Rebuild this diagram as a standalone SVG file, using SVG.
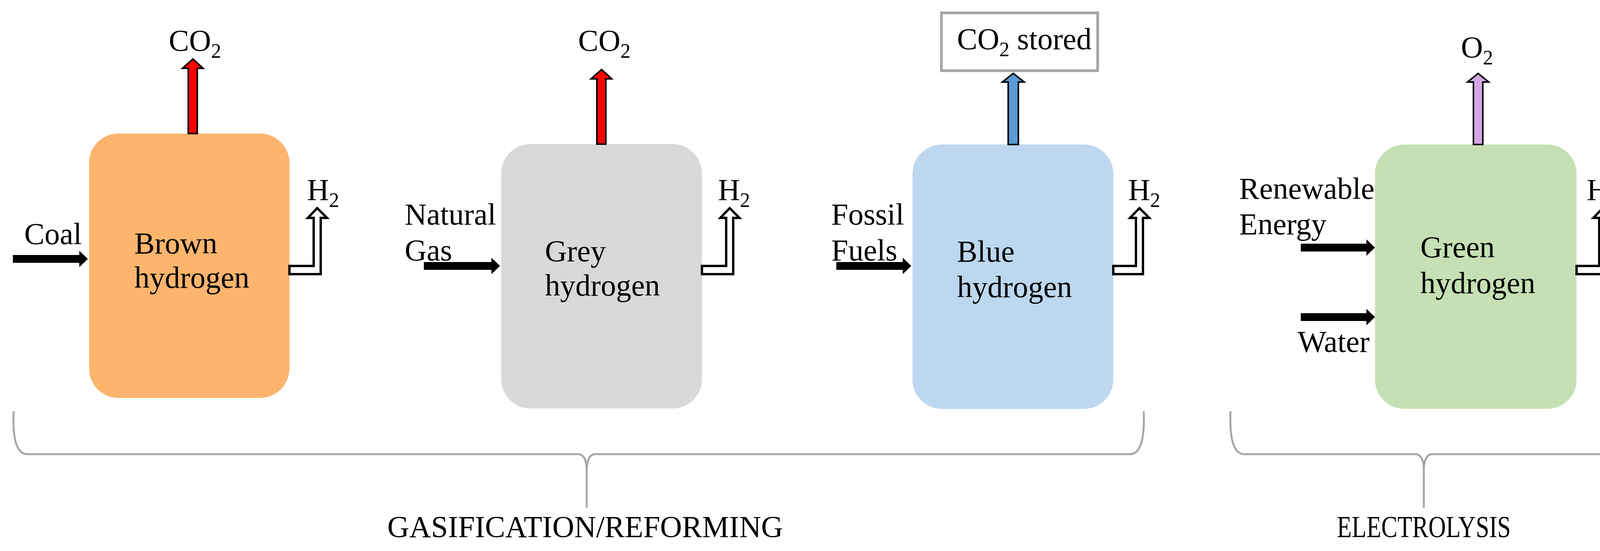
<svg xmlns="http://www.w3.org/2000/svg" width="4182" height="1411" viewBox="0 0 4182 1411">
<style>
text{font-family:"Liberation Serif","Times New Roman",serif;font-size:78px;fill:#000}
.sub{font-size:52px}
.in{fill:#000}
.h2{fill:#fff;stroke:#000;stroke-width:6}
.up{stroke:#000;stroke-width:4}
.brace{fill:none;stroke:#a6a6a6;stroke-width:5}
</style>
<rect width="4182" height="1411" fill="#fff"/>
<g id="brown">
<rect x="228" y="342" width="513" height="677" rx="75" fill="#fdb56e"/>
<text x="344" y="649">Brown</text><text x="344" y="737">hydrogen</text>
</g>
<g id="grey">
<rect x="1283" y="369" width="514" height="677" rx="75" fill="#d9d9d9"/>
<text x="1395" y="669">Grey</text><text x="1395" y="757">hydrogen</text>
</g>
<g id="blue">
<rect x="2336" y="370" width="514" height="677" rx="75" fill="#bdd7ee"/>
<text x="2450" y="670">Blue</text><text x="2450" y="761">hydrogen</text>
</g>
<g id="green">
<rect x="3520" y="370" width="516" height="677" rx="75" fill="#c5e0b4"/>
<text x="3636" y="659">Green</text><text x="3636" y="751">hydrogen</text>
</g>
<g id="co2stored">
<rect x="2410" y="33" width="400" height="148" fill="#fff" stroke="#a6a6a6" stroke-width="7"/>
<text x="2450" y="126">CO<tspan class="sub" dy="18">2</tspan><tspan dy="-18"> stored</tspan></text>
</g>
<g id="labels">
<text x="432" y="130">CO<tspan class="sub" dy="18">2</tspan></text>
<text x="1480" y="130">CO<tspan class="sub" dy="18">2</tspan></text>
<text x="3740" y="147">O<tspan class="sub" dy="18">2</tspan></text>
<text x="786" y="512">H<tspan class="sub" dy="18">2</tspan></text>
<text x="1838" y="512">H<tspan class="sub" dy="18">2</tspan></text>
<text x="2888" y="512">H<tspan class="sub" dy="18">2</tspan></text>
<text x="4062" y="512">H<tspan class="sub" dy="18">2</tspan></text>
<text x="62" y="625">Coal</text>
<text x="1036" y="575">Natural</text><text x="1036" y="667">Gas</text>
<text x="2128" y="575">Fossil</text><text x="2128" y="667">Fuels</text>
<text x="3172" y="509">Renewable</text><text x="3172" y="600">Energy</text>
<text x="3322" y="901">Water</text>
<text x="1498" y="1375" text-anchor="middle" textLength="1013" lengthAdjust="spacingAndGlyphs">GASIFICATION/REFORMING</text>
<text x="3645" y="1375" text-anchor="middle" textLength="445" lengthAdjust="spacingAndGlyphs">ELECTROLYSIS</text>
</g>
<g id="connectors">
<path class="in" d="M33,653 H203 V642 L225,663 L203,684 V673 H33 Z"/>
<path class="in" d="M1085,671 H1258 V660 L1280,681 L1258,702 V691 H1085 Z"/>
<path class="in" d="M2141,671 H2311 V660 L2333,681 L2311,702 V691 H2141 Z"/>
<path class="in" d="M3330,624 H3498 V613 L3520,634 L3498,655 V644 H3330 Z"/>
<path class="in" d="M3330,802 H3498 V791 L3520,812 L3498,833 V822 H3330 Z"/>
<path class="up" fill="#ff0000" d="M482,342 V175 H467 L494,151 L520,175 H505 V342 Z"/>
<path class="up" fill="#ff0000" d="M1528,369 V202 H1513 L1540,178 L1566,202 H1551 V369 Z"/>
<path class="up" fill="#5b9bd5" d="M2581,370 V210 H2566 L2594,188 L2622,210 H2607 V370 Z"/>
<path class="up" fill="#d5a6e6" d="M3772,370 V210 H3757 L3784,188 L3811,210 H3796 V370 Z"/>
<path class="h2" d="M741,681 H803 V558 H788 L812,533 L837,558 H821 V702 H741 Z"/>
<path class="h2" d="M1797,681 H1859 V558 H1844 L1868,533 L1893,558 H1877 V702 H1797 Z"/>
<path class="h2" d="M2850,681 H2908 V558 H2893 L2917,533 L2942,558 H2926 V702 H2850 Z"/>
<path class="h2" d="M4036,681 H4094 V558 H4079 L4103,533 L4128,558 H4112 V702 H4036 Z"/>
</g>
<g id="braces">
<path class="brace" d="M35,1053 Q30,1163 70,1163 H1480 Q1500,1163 1502,1200 V1300 M1502,1200 Q1504,1163 1524,1163 H2893 Q2932,1163 2928,1053"/>
<path class="brace" d="M3150,1053 Q3146,1163 3185,1163 H3623 Q3643,1163 3645,1200 V1300 M3645,1200 Q3647,1163 3667,1163 H4104 Q4143,1163 4139,1053"/>
</g>
</svg>
